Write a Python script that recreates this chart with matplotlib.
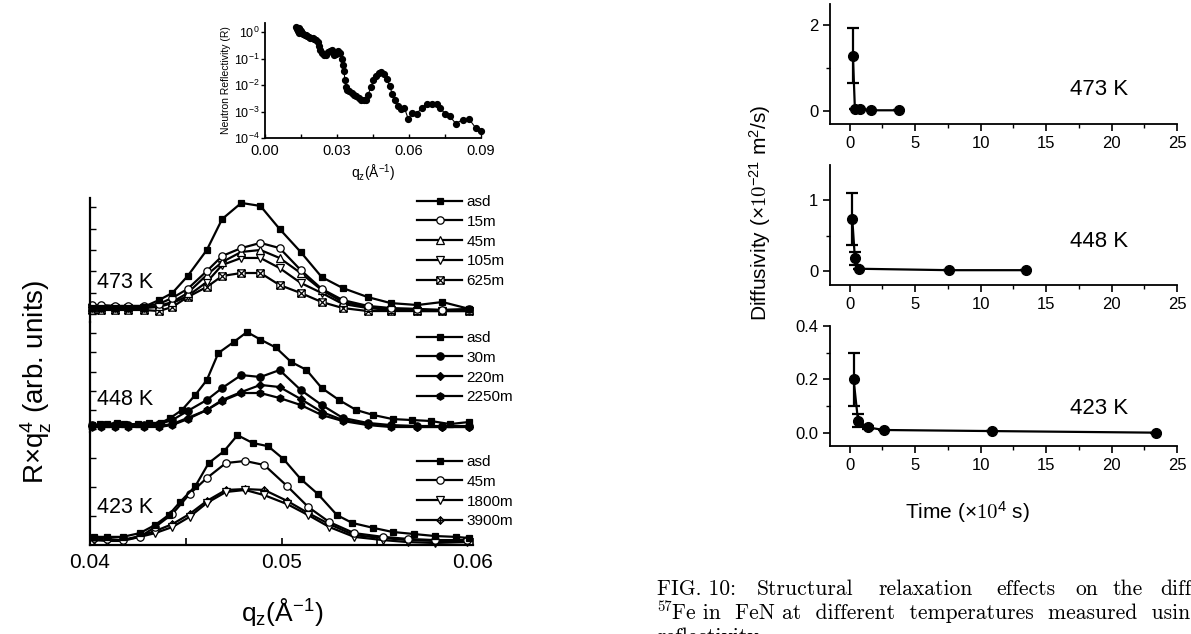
import matplotlib
matplotlib.use("Agg")
import matplotlib.pyplot as plt
from matplotlib.path import Path
from matplotlib.ticker import FixedLocator, NullFormatter, LogLocator, FormatStrFormatter

plt.rcParams['font.family'] = ['Liberation Sans', 'DejaVu Sans']
plt.rcParams['mathtext.fontset'] = 'cm'
plt.rcParams['mathtext.default'] = 'regular'

# --- inset: neutron reflectivity (as-deposited) ---
q_nr = [0.0131, 0.0134, 0.0137, 0.0140, 0.0142, 0.0145, 0.0148, 0.0152, 0.0156, 0.0160,
        0.0165, 0.0170, 0.0176, 0.0183, 0.0189, 0.0198, 0.0206, 0.0214, 0.0220, 0.0225,
        0.0231, 0.0238, 0.0245, 0.0253, 0.0261, 0.0270, 0.0278, 0.0286, 0.0295, 0.0303,
        0.0311, 0.0319, 0.0325, 0.0329, 0.0333, 0.0337, 0.0343, 0.0351, 0.0361, 0.0371,
        0.0380, 0.0390, 0.0400, 0.0411, 0.0420, 0.0430, 0.0441, 0.0452, 0.0463, 0.0474,
        0.0485, 0.0496, 0.0507, 0.0519, 0.0530, 0.0541, 0.0553, 0.0567, 0.0581, 0.0597,
        0.0613, 0.0632, 0.0653, 0.0673, 0.0694, 0.0715, 0.0731, 0.0749, 0.0770, 0.0795,
        0.0823, 0.0850, 0.0878, 0.0899]
r_nr = [1.54, 1.30, 1.06, 1.42, 0.92, 1.16, 0.97, 1.06, 0.92, 0.84,
        0.79, 0.75, 0.69, 0.65, 0.61, 0.58, 0.54, 0.51, 0.41, 0.305,
        0.216, 0.161, 0.132, 0.136, 0.171, 0.198, 0.203, 0.140, 0.152, 0.186,
        0.161, 0.0958, 0.0585, 0.0328, 0.0159, 0.00841, 0.00667, 0.00577, 0.00499, 0.00432,
        0.00374, 0.00323, 0.00280, 0.00264, 0.00280, 0.00432, 0.00841, 0.0150, 0.0225, 0.0284,
        0.0301, 0.0268, 0.0168, 0.00944, 0.00471, 0.00280, 0.00166, 0.00124, 0.00136, 0.00052,
        0.00088, 0.00083, 0.00136, 0.00198, 0.00198, 0.00198, 0.00136, 0.00083, 0.00066, 0.00035,
        0.00049, 0.00052, 0.00024, 0.00019]

# --- 473 K ---
q_473 = [0.0401, 0.0406, 0.0413, 0.0420, 0.0428, 0.0436, 0.0443, 0.0451, 0.0461, 0.0469,
         0.0479, 0.0489, 0.0499, 0.0510, 0.0521, 0.0532, 0.0545, 0.0557, 0.0571, 0.0584, 0.0598]
asd_473 = [0.30, 0.30, 0.30, 0.30, 0.35, 0.67, 1.00, 1.79, 3.00, 4.44,
           5.19, 5.05, 3.98, 2.91, 1.74, 1.23, 0.81, 0.53, 0.44, 0.58, 0.26]
m15_473 = [0.44, 0.44, 0.40, 0.40, 0.40, 0.49, 0.77, 1.19, 2.02, 2.72,
           3.09, 3.33, 3.09, 2.07, 1.19, 0.67, 0.40, 0.30, 0.26, 0.21, 0.26]
m45_473 = [0.35, 0.35, 0.35, 0.35, 0.35, 0.40, 0.58, 1.00, 1.84, 2.44,
           2.91, 3.00, 2.63, 1.93, 1.14, 0.58, 0.35, 0.26, 0.21, 0.21, 0.21]
m105_473 = [0.30, 0.30, 0.30, 0.30, 0.30, 0.35, 0.53, 0.86, 1.51, 2.30,
            2.63, 2.63, 2.16, 1.47, 1.00, 0.49, 0.30, 0.21, 0.16, 0.16, 0.16]
m625_473 = [0.21, 0.21, 0.21, 0.21, 0.21, 0.16, 0.35, 0.81, 1.28, 1.79,
            1.93, 1.93, 1.37, 1.00, 0.58, 0.30, 0.16, 0.16, 0.16, 0.16, 0.16]

# --- 448 K ---
q_448_asd = [0.0401, 0.0405, 0.0409, 0.0414, 0.0418, 0.0425, 0.0431, 0.0437, 0.0442, 0.0448,
             0.0455, 0.0461, 0.0467, 0.0475, 0.0482, 0.0489, 0.0497, 0.0505, 0.0513, 0.0521,
             0.0530, 0.0539, 0.0548, 0.0558, 0.0568, 0.0578, 0.0588, 0.0598]
asd_448 = [0.23, 0.28, 0.28, 0.34, 0.28, 0.28, 0.34, 0.34, 0.60, 1.01,
           1.79, 2.56, 3.96, 4.53, 5.05, 4.66, 4.25, 3.50, 3.09, 2.15,
           1.53, 1.01, 0.75, 0.54, 0.49, 0.44, 0.28, 0.39]
q_448 = [0.0401, 0.0406, 0.0413, 0.0420, 0.0428, 0.0436, 0.0443, 0.0451, 0.0461, 0.0469,
         0.0479, 0.0489, 0.0499, 0.0510, 0.0521, 0.0532, 0.0545, 0.0557, 0.0571, 0.0584, 0.0598]
m30_448 = [0.23, 0.23, 0.23, 0.23, 0.23, 0.28, 0.49, 0.96, 1.53, 2.15,
           2.82, 2.72, 3.08, 2.05, 1.27, 0.60, 0.34, 0.23, 0.18, 0.18, 0.18]
m220_448 = [0.18, 0.18, 0.18, 0.18, 0.18, 0.18, 0.28, 0.60, 1.01, 1.53,
            1.94, 2.31, 2.20, 1.58, 0.91, 0.49, 0.28, 0.18, 0.13, 0.13, 0.13]
m2250_448 = [0.13, 0.13, 0.13, 0.13, 0.13, 0.13, 0.23, 0.54, 1.01, 1.48,
             1.89, 1.89, 1.63, 1.27, 0.75, 0.44, 0.23, 0.13, 0.13, 0.13, 0.13]

# --- 423 K ---
q_423_asd = [0.0402, 0.0409, 0.0417, 0.0426, 0.0434, 0.0441, 0.0447, 0.0455, 0.0462, 0.0470,
             0.0477, 0.0485, 0.0493, 0.0501, 0.0510, 0.0519, 0.0529, 0.0537, 0.0548, 0.0558,
             0.0569, 0.0580, 0.0591, 0.0598]
asd_423 = [0.28, 0.28, 0.28, 0.41, 0.69, 1.03, 1.48, 2.03, 2.83, 3.24,
           3.79, 3.52, 3.41, 2.97, 2.28, 1.76, 1.03, 0.76, 0.59, 0.45,
           0.38, 0.31, 0.28, 0.24]
q_423 = [0.0402, 0.0409, 0.0417, 0.0426, 0.0434, 0.0443, 0.0452, 0.0461, 0.0471, 0.0481,
         0.0491, 0.0503, 0.0514, 0.0525, 0.0538, 0.0553, 0.0566, 0.0580, 0.0597]
m45_423 = [0.24, 0.21, 0.17, 0.28, 0.62, 1.07, 1.76, 2.31, 2.83, 2.90,
           2.76, 2.03, 1.31, 0.79, 0.41, 0.28, 0.21, 0.17, 0.17]
m1800_423 = [0.17, 0.14, 0.14, 0.28, 0.41, 0.62, 0.97, 1.45, 1.83, 1.90,
             1.72, 1.41, 1.03, 0.62, 0.28, 0.17, 0.10, 0.07, 0.10]
m3900_423 = [0.21, 0.17, 0.17, 0.31, 0.48, 0.72, 1.07, 1.52, 1.90, 1.93,
             1.90, 1.52, 1.10, 0.72, 0.34, 0.24, 0.17, 0.14, 0.14]

# --- diffusivity vs time (x1e4 s, x1e-21 m^2/s) ---
t_473 = [0.25, 0.4, 0.8, 1.6, 3.8]
d_473 = [1.29, 0.06, 0.06, 0.02, 0.02]
e_473 = [0.64, 0, 0, 0, 0]
t_448 = [0.2, 0.4, 0.75, 7.6, 13.5]
d_448 = [0.74, 0.18, 0.03, 0.01, 0.01]
e_448 = [0.37, 0.09, 0, 0, 0]
t_423 = [0.3, 0.64, 1.38, 2.6, 10.85, 23.4]
d_423 = [0.20, 0.045, 0.02, 0.01, 0.006, 0.0]
e_423 = [0.10, 0.025, 0.005, 0, 0, 0]

W, H = 1191, 634
fig = plt.figure(figsize=(W / 100, H / 100), dpi=100)


def box(left, top, right, bottom):
    return [left / W, 1 - bottom / H, (right - left) / W, (bottom - top) / H]


M, L, C = Path.MOVETO, Path.LINETO, Path.CLOSEPOLY
box_x = Path([(-1, -1), (1, -1), (1, 1), (-1, 1), (-1, -1), (-1, -1), (1, 1), (-1, 1), (1, -1)],
             [M, L, L, L, C, M, L, M, L])
diamond_plus = Path([(0, -1), (1, 0), (0, 1), (-1, 0), (0, -1), (0, -1), (0, 1), (-1, 0), (1, 0)],
                    [M, L, L, L, C, M, L, M, L])


def serie(ax, q, y, marker, face, label, ms=5.3):
    ax.plot(q, y, color='black', lw=1.6, marker=marker, ms=ms, mfc=face,
            mec='black', mew=0.9, label=label, clip_on=False)


def stack_panel(top, bottom, ylim, yticks, last=False):
    ax = fig.add_axes(box(90, top, 473, bottom))
    ax.patch.set_alpha(0)
    ax.set_xlim(0.04, 0.06)
    ax.set_ylim(*ylim)
    ax.spines['top'].set_visible(False)
    ax.spines['right'].set_visible(False)
    ax.spines['left'].set_linewidth(1.6)
    ax.yaxis.set_major_locator(FixedLocator(yticks))
    ax.yaxis.set_major_formatter(NullFormatter())
    ax.tick_params(axis='y', direction='in', length=4, width=1)
    if last:
        ax.spines['bottom'].set_linewidth(1.6)
        ax.set_xticks([0.04, 0.05, 0.06])
        ax.set_xticklabels(['0.04', '0.05', '0.06'])
        ax.xaxis.set_minor_locator(FixedLocator([0.045, 0.055]))
        ax.tick_params(axis='x', which='both', direction='in', length=5, width=1.2,
                       labelsize=15, pad=6)
    else:
        ax.spines['bottom'].set_visible(False)
        ax.set_xticks([])
    return ax


def legend(ax, top_px):
    h, lab = ax.get_legend_handles_labels()
    ax.legend(h[::-1], lab[::-1], loc='upper left',
              bbox_to_anchor=(417 / W, 1 - top_px / H),
              bbox_transform=fig.transFigure, frameon=False, borderpad=0,
              borderaxespad=0, handlelength=2.95, handletextpad=0.3,
              labelspacing=0.38, fontsize=11)


# left: R*q^4 stacks
ax_a = stack_panel(198, 322, (-0.35, 5.42), [0, 1, 2, 3, 4, 5])
serie(ax_a, q_473, m625_473, box_x, 'white', '625m')
serie(ax_a, q_473, m105_473, 'v', 'white', '105m')
serie(ax_a, q_473, m45_473, '^', 'white', '45m')
serie(ax_a, q_473, m15_473, 'o', 'white', '15m')
serie(ax_a, q_473, asd_473, 's', 'black', 'asd', ms=5)
legend(ax_a, 195)
ax_a.text(0.04037, 1.51, '473 K', fontsize=15.5, va='center')

ax_b = stack_panel(322, 432, (-0.13, 5.57), [0, 1, 2, 3, 4, 5])
serie(ax_b, q_448, m2250_448, 'h', 'black', '2250m')
serie(ax_b, q_448, m220_448, 'D', 'black', '220m', ms=4.5)
serie(ax_b, q_448, m30_448, 'o', 'black', '30m')
serie(ax_b, q_448_asd, asd_448, 's', 'black', 'asd', ms=5)
legend(ax_b, 331)
ax_b.text(0.04037, 1.53, '448 K', fontsize=15.5, va='center')

ax_c = stack_panel(432, 545, (0, 3.9), [1, 2, 3], last=True)
serie(ax_c, q_423, m3900_423, diamond_plus, '#9a9a9a', '3900m')
serie(ax_c, q_423, m1800_423, 'v', 'white', '1800m')
serie(ax_c, q_423, m45_423, 'o', 'white', '45m')
serie(ax_c, q_423_asd, asd_423, 's', 'black', 'asd', ms=5)
legend(ax_c, 455)
ax_c.text(0.04037, 1.31, '423 K', fontsize=15.5, va='center')

fig.text(36 / W, 1 - 382 / H, r'R$\times$q$_z^4$ (arb. units)', rotation=90,
         fontsize=20, ha='center', va='center')
fig.text(282 / W, 1 - 612 / H, r'q$_z$(Å$^{-1}$)', fontsize=19, ha='center', va='center')

# inset
ax_i = fig.add_axes(box(265, 23, 481, 138))
ax_i.plot(q_nr, r_nr, color='black', lw=0.8, marker='o', ms=4.2, clip_on=False)
ax_i.set_yscale('log')
ax_i.set_xlim(0, 0.09)
ax_i.set_ylim(1e-4, 10 ** 0.34)
ax_i.spines['top'].set_visible(False)
ax_i.spines['right'].set_visible(False)
for s in ['left', 'bottom']:
    ax_i.spines[s].set_linewidth(1.3)
ax_i.set_xticks([0, 0.03, 0.06, 0.09])
ax_i.set_xticklabels(['0.00', '0.03', '0.06', '0.09'])
ax_i.xaxis.set_minor_locator(FixedLocator([0.015, 0.045, 0.075]))
ax_i.yaxis.set_major_locator(LogLocator(base=10, numticks=10))
ax_i.yaxis.set_minor_locator(FixedLocator([]))
ax_i.tick_params(axis='x', which='both', direction='in', length=3, width=1, labelsize=10.5, pad=4)
ax_i.tick_params(axis='y', direction='out', length=3, width=1, labelsize=9, pad=1)
ax_i.set_ylabel('Neutron Reflectivity (R)', fontsize=7.5, labelpad=2)
ax_i.set_xlabel(r'q$_z$(Å$^{-1}$)', fontsize=10, labelpad=4)


# right: diffusivity panels
def diff_panel(top, ylim, major, minor, fmt):
    ax = fig.add_axes(box(830, top, 1177, top + 120))
    ax.set_xlim(-1.5, 25)
    ax.set_ylim(*ylim)
    ax.spines['top'].set_visible(False)
    ax.spines['right'].set_visible(False)
    for s in ['left', 'bottom']:
        ax.spines[s].set_linewidth(1.3)
    ax.set_xticks([0, 5, 10, 15, 20, 25])
    ax.xaxis.set_minor_locator(FixedLocator([2.5, 7.5, 12.5, 17.5, 22.5]))
    ax.yaxis.set_major_locator(FixedLocator(major))
    ax.yaxis.set_minor_locator(FixedLocator(minor))
    ax.yaxis.set_major_formatter(FormatStrFormatter(fmt))
    ax.tick_params(which='major', direction='out', length=5, width=1.2, labelsize=12)
    ax.tick_params(which='minor', direction='out', length=3, width=1)
    return ax


def diff_series(ax, t, d, e, label, ly):
    ax.errorbar(t, d, yerr=e, fmt='-o', color='black', ms=7, lw=1.6,
                elinewidth=1.6, capsize=4, capthick=1.6, clip_on=False)
    ax.text(16.8, ly, label, fontsize=16, va='center')


ax_r1 = diff_panel(4, (-0.3, 2.5), [0, 2], [1], '%d')
diff_series(ax_r1, t_473, d_473, e_473, '473 K', 0.5)
ax_r2 = diff_panel(165, (-0.2, 1.5), [0, 1], [0.5], '%d')
diff_series(ax_r2, t_448, d_448, e_448, '448 K', 0.42)
ax_r3 = diff_panel(326, (-0.05, 0.4), [0, 0.2, 0.4], [0.1, 0.3], '%.1f')
diff_series(ax_r3, t_423, d_423, e_423, '423 K', 0.092)

fig.text(760 / W, 1 - 213 / H, r'Diffusivity ($\times\mathrm{10}^{-21}$ m$^2$/s)',
         rotation=90, fontsize=15, ha='center', va='center')
fig.text(967 / W, 1 - 512 / H, r'Time ($\times\mathrm{10}^{4}$ s)', fontsize=15,
         ha='center', va='center')

# caption (justified, cut by the right edge as on the page)
cap = dict(fontfamily='cmr10', fontsize=15.5, va='baseline')
for word, x in [('FIG. 10:', 657), ('Structural', 757), ('relaxation', 878),
                ('effects', 996), ('on', 1075), ('the', 1113), ('diff', 1160)]:
    fig.text(x / W, 1 - 595 / H, word, **cap)
fig.text(657 / W, 1 - 611 / H, '57', fontfamily='cmr10', fontsize=10.5, va='baseline')
fig.text(672 / W, 1 - 619 / H, 'Fe in  FeN at  different  temperatures  measured  usin', **cap)
fig.text(657 / W, 1 - 643 / H, 'reflectivity', **cap)

fig.savefig('out.png', dpi=100, facecolor='white')
